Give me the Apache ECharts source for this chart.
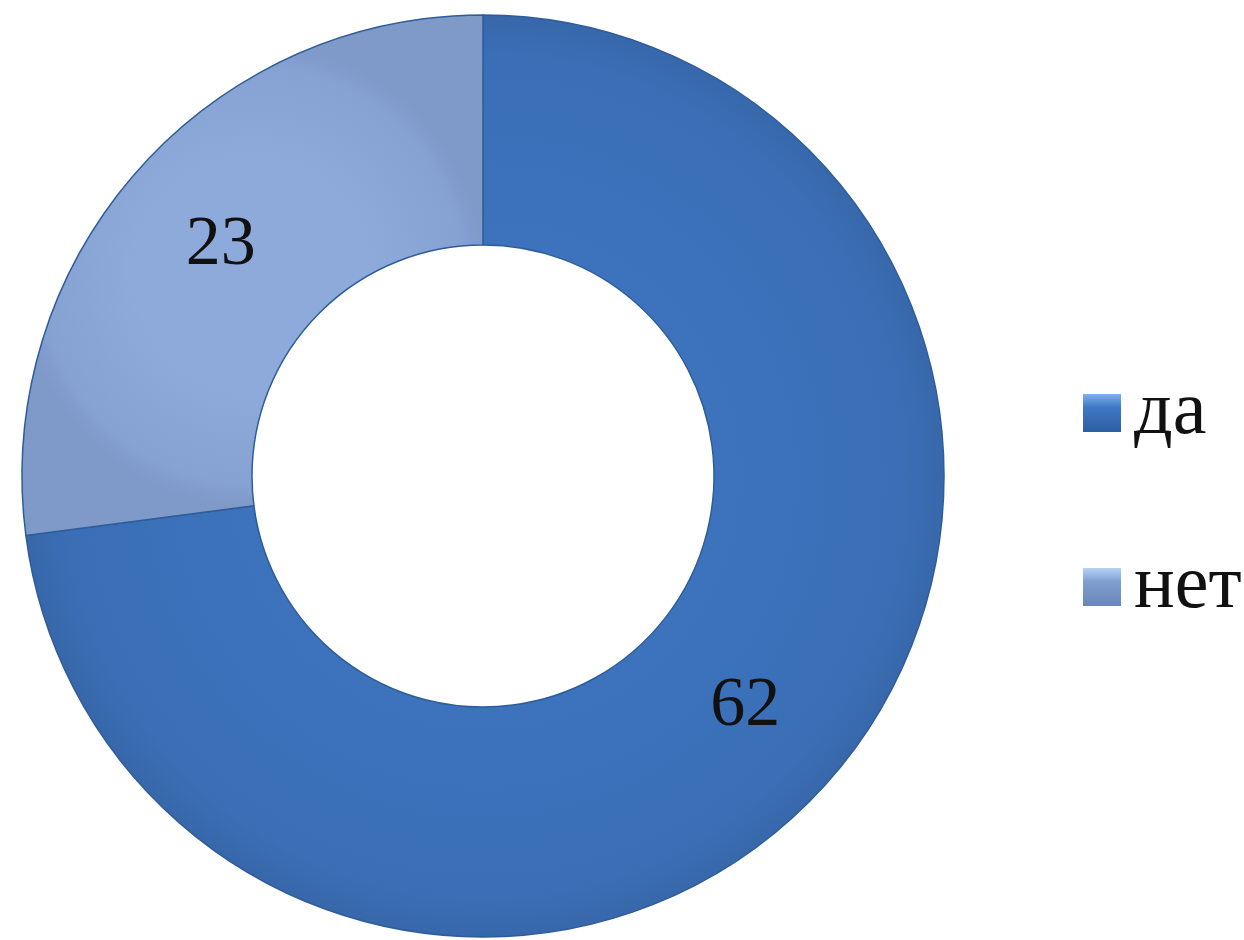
<!DOCTYPE html>
<html>
<head>
<meta charset="utf-8">
<script src="https://cdn.jsdelivr.net/npm/echarts@6/dist/echarts.min.js"></script>
<style>html,body{margin:0;padding:0;background:#fff;}#c{width:1244px;height:940px;}</style>
</head>
<body>
<div id="c"></div>
<script>
const categories = ['да', 'нет'];
const values = [62, 23];

const colors = [
  new echarts.graphic.RadialGradient(0.5, 0.5, 0.5, [
    {offset: 0.5, color: '#3c73bc'},
    {offset: 0.9, color: '#3a6fb7'},
    {offset: 1, color: '#3868ab'}
  ]),
  new echarts.graphic.RadialGradient(0.5, 0.5, 0.5, [
    {offset: 0.5, color: '#8eaadb'},
    {offset: 0.9, color: '#86a2d3'},
    {offset: 1, color: '#7f99c8'}
  ])
];
const legendColors = [
  new echarts.graphic.LinearGradient(0, 0, 0, 1, [
    {offset: 0, color: '#7fb0ee'},
    {offset: 0.35, color: '#3f78c4'},
    {offset: 1, color: '#2d5ea3'}
  ]),
  new echarts.graphic.LinearGradient(0, 0, 0, 1, [
    {offset: 0, color: '#b6d4f7'},
    {offset: 0.35, color: '#7f9fd2'},
    {offset: 1, color: '#6a86b8'}
  ])
];

const chart = echarts.init(document.getElementById('c'));
chart.setOption({
  backgroundColor: '#fff',
  animation: false,
  legend: {
    orient: 'vertical',
    left: 1078,
    top: 370,
    itemWidth: 38,
    itemHeight: 38,
    itemGap: 98,
    icon: 'rect',
    data: categories.map((c, i) => ({name: c, itemStyle: {color: legendColors[i], borderWidth: 0}})),
    textStyle: {fontFamily: 'Liberation Serif', fontSize: 76, color: '#111', padding: [0, 0, 0, 8]}
  },
  series: [{
    type: 'pie',
    center: [483, 476],
    radius: [231, 461],
    startAngle: 90,
    clockwise: true,
    label: {
      show: true,
      position: 'inside',
      formatter: '{c}',
      fontFamily: 'Liberation Serif',
      fontSize: 70,
      color: '#111'
    },
    labelLine: {show: false},
    itemStyle: {borderColor: '#2f5d99', borderWidth: 1.5},
    emphasis: {disabled: true},
    data: categories.map((c, i) => ({name: c, value: values[i], itemStyle: {color: colors[i]}}))
  }]
});
</script>
</body>
</html>
